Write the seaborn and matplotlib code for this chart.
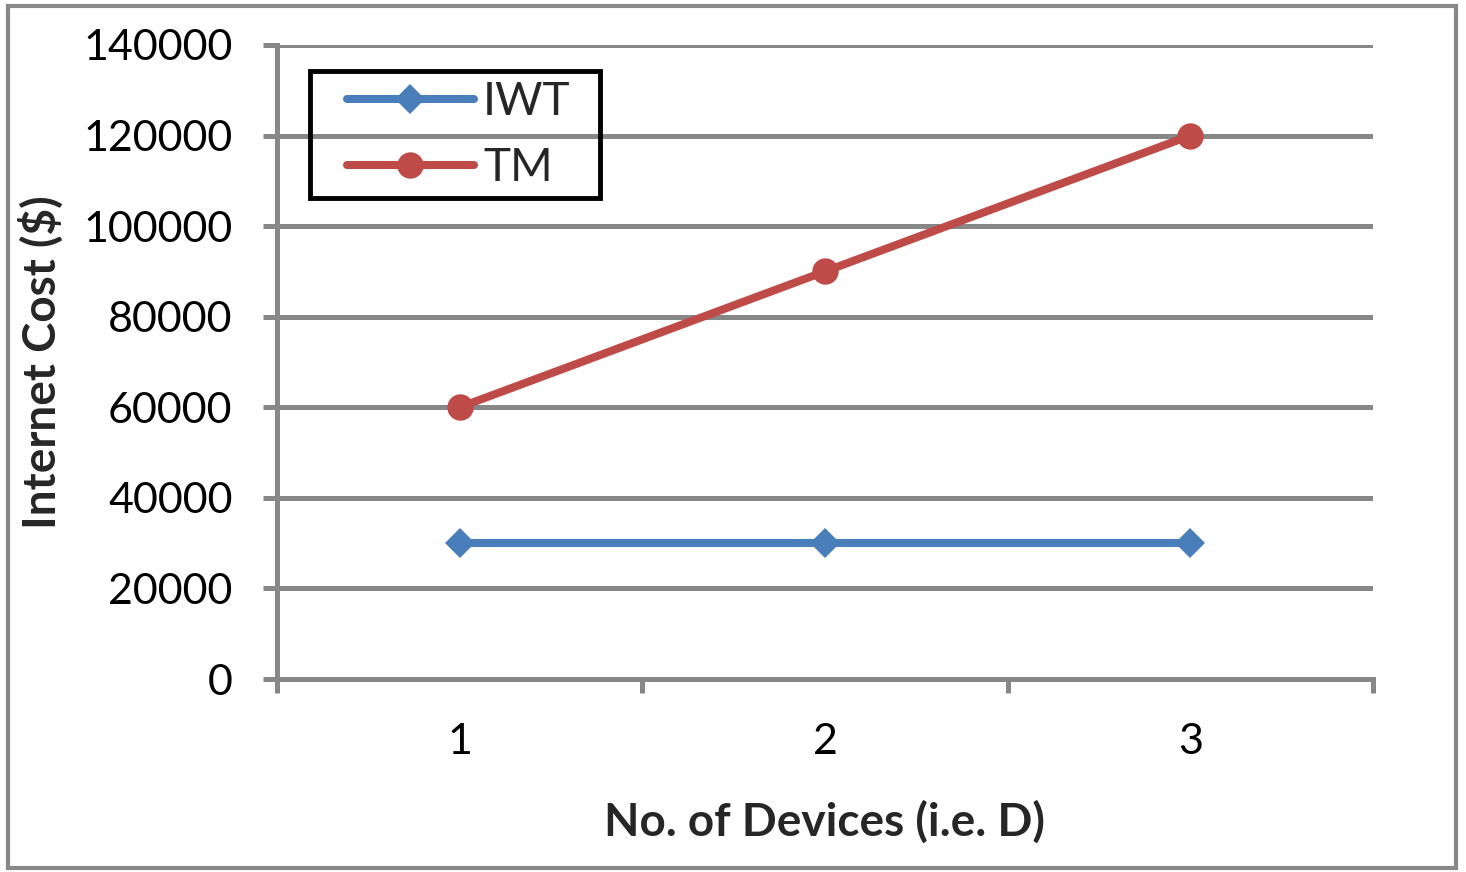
import matplotlib
matplotlib.use("Agg")
import matplotlib.pyplot as plt
import seaborn as sns
import pandas as pd
from matplotlib.patches import Rectangle

devices = ["1", "2", "3"]
iwt = [30000, 30000, 30000]
tm = [60000, 90000, 120000]
yticks = [0, 20000, 40000, 60000, 80000, 100000, 120000, 140000]

df = pd.DataFrame({
    "D": devices * 2,
    "pos": [0, 1, 2] * 2,
    "cost": iwt + tm,
    "series": ["IWT"] * 3 + ["TM"] * 3,
})

sns.set_theme(style="white")
plt.rcParams['font.family'] = ['Lato', 'DejaVu Sans']

W, H = 1466, 872
fig = plt.figure(figsize=(W / 100, H / 100), dpi=100)
ax = fig.add_axes([277/W, 1-679/H, (1373-277)/W, (679-45)/H])

grid_c = "#878787"
glw = 3.6
for y in yticks[1:]:
    ax.axhline(y, color=grid_c, lw=glw, zorder=0)

colors = {"IWT": "#4A7EBB", "TM": "#BE4B48"}
markers = {"IWT": "D", "TM": "o"}
sizes = {"IWT": 15, "TM": 19}
for name in ["IWT", "TM"]:
    sub = df[df.series == name]
    sns.lineplot(data=sub, x="pos", y="cost", ax=ax, color=colors[name],
                 lw=5.8, marker=markers[name], markersize=sizes[name],
                 markeredgewidth=0, label=name, zorder=3)

ax.set_xlim(-0.5, 2.5)
ax.set_ylim(0, 140000)
ax.set_yticks(yticks)
ax.set_yticklabels([str(v) for v in yticks], fontsize=31, color="black")
ax.set_xticks([0, 1, 2])
ax.set_xticklabels(devices, fontsize=31, color="black")
ax.set_xticks([-0.5, 0.5, 1.5, 2.5], minor=True)
ax.tick_params(axis="x", which="major", bottom=False, length=0, pad=32)
ax.tick_params(axis="x", which="minor", bottom=True, length=10, width=glw, color=grid_c, direction="out")
ax.tick_params(axis="y", which="major", left=True, length=10, width=glw, color=grid_c, direction="out", pad=22)

for s in ["top", "right"]:
    ax.spines[s].set_visible(False)
for s in ["left", "bottom"]:
    ax.spines[s].set_color(grid_c)
    ax.spines[s].set_linewidth(glw)

ax.set_xlabel("No. of Devices (i.e. D)", fontsize=33, fontweight="bold", labelpad=28)
ax.set_ylabel("Internet Cost ($)", fontsize=33, fontweight="bold", labelpad=14)

leg = ax.legend(loc="upper left", bbox_to_anchor=(347/W, 1-81/H),
                bbox_transform=fig.transFigure,
                fontsize=33, frameon=False, handlelength=2.77,
                handletextpad=0.2, borderpad=0, labelspacing=0.53, borderaxespad=0)

fig.patches.append(Rectangle((310/W, 1-198/H), 290/W, 127/H, transform=fig.transFigure,
                             fill=False, edgecolor="black", lw=3.5, zorder=5))

fig.patches.append(Rectangle((8/W, 4/H), 1448/W, 862/H, transform=fig.transFigure,
                             fill=False, edgecolor="#888888", lw=3))

fig.savefig("out.png", dpi=100)
